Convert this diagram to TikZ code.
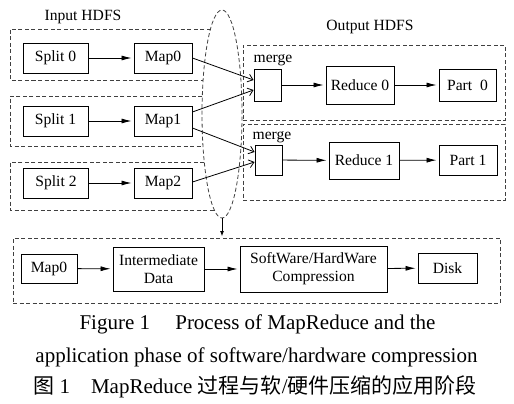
\documentclass[tikz,border=0pt]{standalone}
\usepackage{fontspec}
\setmainfont{Liberation Serif}
\newfontfamily\cjk{Noto Sans CJK SC}
\usetikzlibrary{arrows.meta,calc,shapes.geometric}
\begin{document}
\begin{tikzpicture}[x=1pt,y=-1pt,
  box/.style={draw, line width=0.9pt, inner sep=0pt, align=center,
    font=\fontsize{15.6}{18}\selectfont},
  dbox/.style={draw=black!75, line width=0.8pt, dash pattern=on 4pt off 2.5pt},
  lbl/.style={anchor=base, inner sep=0pt, font=\fontsize{15.6}{18}\selectfont},
  captxt/.style={anchor=base, inner sep=0pt, font=\fontsize{21}{25}\selectfont},
  flow/.style={line width=0.8pt, -{Latex[length=10pt,width=5pt]}, shorten >=2pt},
  barb/.style={line width=0.8pt, -{Straight Barb[length=5pt,width=8pt]}}
]
\useasboundingbox (0,0) rectangle (514,404);

% ellipse
\node[dbox, ellipse, inner sep=0pt, minimum width=40pt, minimum height=208pt] (ell) at (222,114) {};

% input HDFS dashed boxes (open to the right, ending at the ellipse)
\node[lbl] (inlbl) at (83,21) {Input HDFS};
\draw[dbox] (210.5,29) -- (10,29) -- (10,80) -- (203.1,80);
\draw[dbox] (202.3,96) -- (10,96) -- (10,146) -- (203,146);
\draw[dbox] (204.3,162) -- (10,162) -- (10,210) -- (214.3,210);

% output HDFS dashed boxes
\node[lbl] (outlbl) at (370,30.5) {Output HDFS};
\node[dbox, minimum width=262pt, minimum height=75pt] (out1) at (374,82.5) {};
\node[dbox, minimum width=262pt, minimum height=76pt] (out2) at (374,162) {};

% map nodes
\node[box, minimum width=65pt, minimum height=30pt] (s0) at (55.5,58) {Split 0};
\node[box, minimum width=58pt, minimum height=30pt] (m0) at (163,58) {Map0};
\node[box, minimum width=65pt, minimum height=30pt] (s1) at (55.5,121) {Split 1};
\node[box, minimum width=58pt, minimum height=30pt] (m1) at (163,121) {Map1};
\node[box, minimum width=65pt, minimum height=30pt] (s2) at (56,183) {Split 2};
\node[box, minimum width=58pt, minimum height=30pt] (m2) at (163,183) {Map2};
\draw[flow] (s0) -- (m0);
\draw[flow] (s1) -- (m1);
\draw[flow] (s2) -- (m2);

% reduce side
\node[lbl] (mg1lbl) at (273,63) {merge};
\node[box, minimum width=27pt, minimum height=32pt] (g1) at (267.5,85) {};
\node[box, minimum width=68pt, minimum height=38pt] (r0) at (360,85) {Reduce 0};
\node[box, minimum width=57pt, minimum height=32pt] (p0) at (467.5,85) {Part~~0};
\node[lbl] (mg2lbl) at (272,139) {merge};
\node[box, minimum width=27pt, minimum height=30pt] (g2) at (268.5,160) {};
\node[box, minimum width=70pt, minimum height=37pt] (r1) at (364,160.5) {Reduce 1};
\node[box, minimum width=58pt, minimum height=30pt] (p1) at (468,160) {Part 1};
\draw[flow] (g1) -- (r0);
\draw[flow] (r0) -- (p0);
\draw[flow] (g2) -- (r1);
\draw[flow] (r1) -- (p1);

% shuffle connectors
\draw[barb] (m0.east) -- ($(g1.west)+(0,-5)$);
\draw[barb] ($(m1.east)+(0,-9)$) -- ($(g1.west)+(0,5)$);
\draw[barb] ($(m1.east)+(0,7)$) -- ($(g2.west)+(0,-8)$);
\draw[barb] ($(m2.east)+(0,-1)$) -- ($(g2.west)+(0,2)$);

% bottom stage
\node[dbox, minimum width=487pt, minimum height=65pt] (bot) at (256.5,270.5) {};
\draw[line width=0.8pt, -{Latex[length=5pt,width=4pt]}, shorten >=1.5pt] (ell.south) -- (ell.south |- bot.north);
\node[box, minimum width=56pt, minimum height=29pt] (bm0) at (49,268.5) {Map0};
\node[box, minimum width=91pt, minimum height=44pt] (im) at (158.5,269) {Intermediate\\Data};
\node[box, minimum width=147pt, minimum height=46pt] (sw) at (313.5,269) {SoftWare/HardWare\\Compression};
\node[box, minimum width=59pt, minimum height=30pt] (dk) at (447.5,268) {Disk};
\draw[flow] (bm0) -- (im);
\draw[flow] (im) -- (sw);
\draw[flow] (sw) -- (dk);

% caption
\node[captxt] (c1) at (257.5,329) {Figure 1\hspace{1.2em}Process of MapReduce and the};
\node[captxt] (c2) at (256.5,362) {application phase of software/hardware compression};
\node[captxt] (c3) at (255,393) {{\cjk 图} 1\hspace{1em}MapReduce {\cjk 过程与软}/{\cjk 硬件压缩的应用阶段}};
\end{tikzpicture}
\end{document}
